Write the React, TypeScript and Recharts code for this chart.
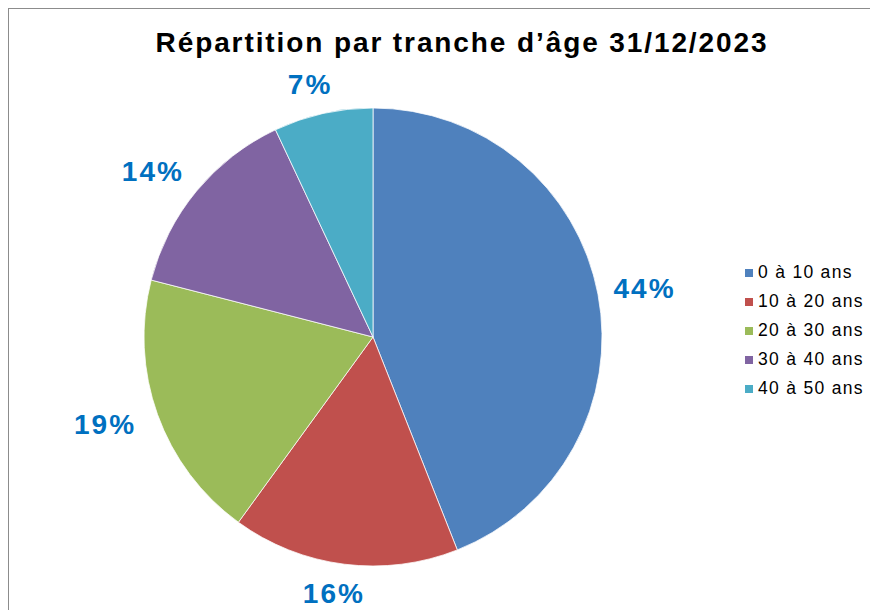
import React from 'react';
import { PieChart, Pie, Cell, Legend } from 'recharts';

const categories = ['0 à 10 ans', '10 à 20 ans', '20 à 30 ans', '30 à 40 ans', '40 à 50 ans'];
const shares = [44, 16, 19, 14, 7];
const colors = ['#4F81BD', '#C0504D', '#9BBB59', '#8064A2', '#4BACC6'];
const title = 'Répartition par tranche d’âge 31/12/2023';

const data = categories.map((name, i) => ({ name, value: shares[i] }));

const RADIAN = Math.PI / 180;
const FONT = '"Liberation Sans", Arial, sans-serif';

const renderLabel = (props: any) => {
  const { cx, cy, midAngle, outerRadius, value } = props;
  const text = `${value}%`;
  const c = Math.cos(-midAngle * RADIAN);
  const s = Math.sin(-midAngle * RADIAN);
  const gap = 20;
  const halfW = (text.length * 21) / 2;
  const halfH = 10;
  const x = cx + (outerRadius + gap + halfW) * c - 4;
  const y = cy + (outerRadius + gap + halfH) * s;
  return (
    <text
      x={x}
      y={y}
      textAnchor="middle"
      dominantBaseline="central"
      fill="#0070C0"
      fontFamily={FONT}
      fontWeight="bold"
      fontSize={28}
      letterSpacing={2}
    >
      {text}
    </text>
  );
};

const renderLegend = (props: any) => {
  const { payload } = props;
  return (
    <div style={{ fontFamily: FONT }}>
      {payload.map((entry: any, i: number) => (
        <div key={i} style={{ display: 'flex', alignItems: 'center', height: 29 }}>
          <span style={{ display: 'inline-block', width: 8, height: 8, background: entry.color, marginRight: 5 }} />
          <span style={{ fontSize: 17.5, letterSpacing: 1.3, color: '#000' }}>{entry.value}</span>
        </div>
      ))}
    </div>
  );
};

export default function App() {
  return (
    <div
      style={{
        position: 'fixed',
        left: 8,
        top: 8,
        width: 862,
        height: 602,
        boxSizing: 'border-box',
        borderLeft: '1px solid #8c8c8c',
        borderTop: '1px solid #8c8c8c',
        overflow: 'hidden',
        background: '#fff',
      }}
    >
      <div
        style={{
          position: 'absolute',
          left: 0,
          top: 20,
          width: 906,
          textAlign: 'center',
          fontFamily: FONT,
          fontWeight: 'bold',
          fontSize: 28,
          lineHeight: '28px',
          letterSpacing: 1.9,
          color: '#000',
          whiteSpace: 'nowrap',
          zIndex: 2,
        }}
      >
        {title}
      </div>
      <PieChart width={861} height={601} margin={{ top: 0, right: 0, bottom: 0, left: 0 }}>
        <Pie
          data={data}
          dataKey="value"
          nameKey="name"
          cx={364}
          cy={328}
          outerRadius={229}
          startAngle={90}
          endAngle={-270}
          stroke="#ffffff"
          strokeWidth={0.75}
          label={renderLabel}
          labelLine={false}
          isAnimationActive={false}
        >
          {data.map((d, i) => (
            <Cell key={d.name} fill={colors[i]} />
          ))}
        </Pie>
        <Legend
          content={renderLegend}
          wrapperStyle={{ position: 'absolute', left: 736, top: 249, width: 130 }}
        />
      </PieChart>
    </div>
  );
}
